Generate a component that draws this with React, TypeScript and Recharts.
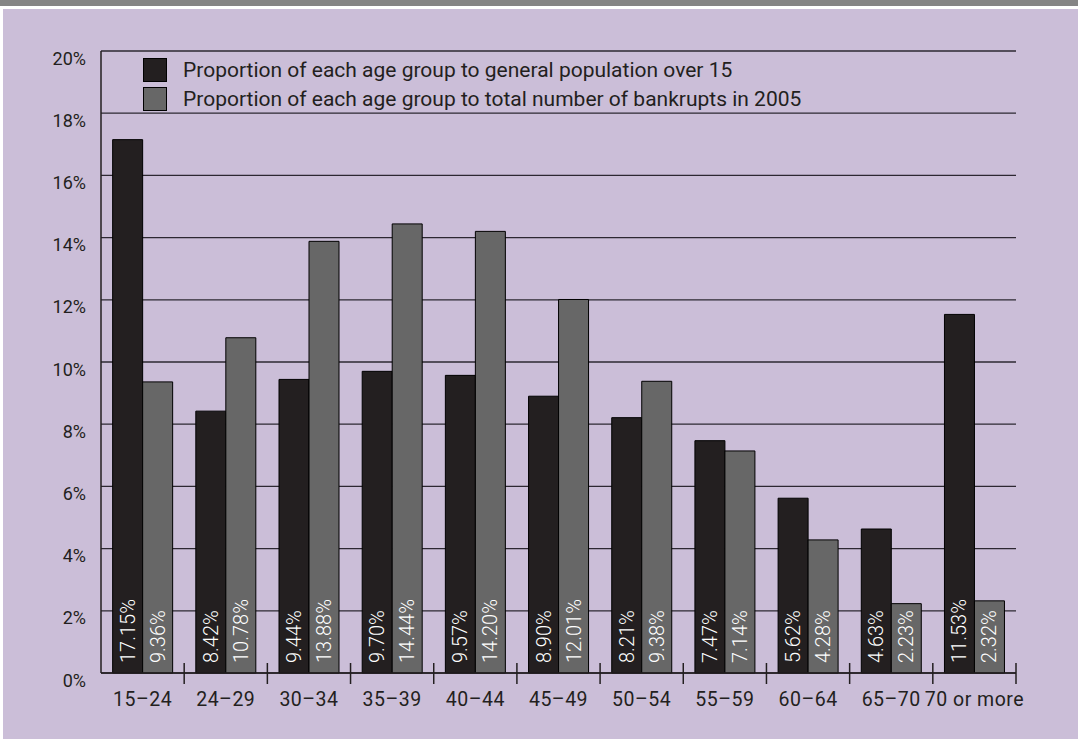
import React from 'react';
import { BarChart, Bar, XAxis, YAxis, CartesianGrid, Legend, LabelList } from 'recharts';

const categories = ['15–24', '24–29', '30–34', '35–39', '40–44', '45–49', '50–54', '55–59', '60–64', '65–70', '70 or more'];
const populationShare = [17.15, 8.42, 9.44, 9.70, 9.57, 8.90, 8.21, 7.47, 5.62, 4.63, 11.53];
const bankruptShare = [9.36, 10.78, 13.88, 14.44, 14.20, 12.01, 9.38, 7.14, 4.28, 2.23, 2.32];
const yTicks = [0, 2, 4, 6, 8, 10, 12, 14, 16, 18, 20];
const seriesNames = [
  'Proportion of each age group to general population over 15',
  'Proportion of each age group to total number of bankrupts in 2005',
];

const data = categories.map((c, i) => ({ cat: c, pop: populationShare[i], bank: bankruptShare[i] }));

const W = 1081;
const H = 739;
const M = { top: 51, right: 65, bottom: 36, left: 41 };
const Y_AXIS_W = 60;
const X_AXIS_H = 30;
const plotW = W - M.left - M.right - Y_AXIS_W;
const halfBand = plotW / categories.length / 2;

const FONT = 'Roboto, "DejaVu Sans", sans-serif';
const INK = '#231f20';
const DARK = '#231f20';
const GRAY = '#676767';

const RotLabel = (props: any) => {
  const { x, y, width, height, value } = props;
  const cx = Number(x) + Number(width) / 2;
  const by = Number(y) + Number(height) - 10;
  return (
    <text
      x={cx}
      y={by}
      transform={`rotate(-90, ${cx}, ${by})`}
      textAnchor="start"
      dominantBaseline="central"
      fill="#ffffff"
      fontSize={20}
      fontWeight={300}
      fontFamily={FONT}
    >
      {Number(value).toFixed(2)}%
    </text>
  );
};

const XTick = (props: any) => {
  const { x, y, payload } = props;
  return (
    <g>
      <line x1={x + halfBand} x2={x + halfBand} y1={y - 10} y2={y + 11} stroke={INK} strokeWidth={1.5} />
      <text x={x} y={y + 33} textAnchor="middle" fill={INK} fontSize={19.5} letterSpacing={0.5} fontFamily={FONT}>
        {payload.value}
      </text>
    </g>
  );
};

const YTick = (props: any) => {
  const { x, y, payload } = props;
  return (
    <text x={x - 15} y={y + 7} textAnchor="end" dominantBaseline="central" fill={INK} fontSize={18} fontFamily={FONT}>
      {payload.value}%
    </text>
  );
};

const LegendContent = () => {
  const colors = [DARK, GRAY];
  return (
    <div style={{ fontFamily: FONT }}>
      {seriesNames.map((n, i) => (
        <div key={n} style={{ display: 'flex', alignItems: 'center', height: 28.5 }}>
          <div
            style={{
              width: 22,
              height: 22,
              background: colors[i],
              border: '1px solid #000',
              marginRight: 16,
              flexShrink: 0,
            }}
          />
          <span style={{ fontSize: 21, color: INK, whiteSpace: 'nowrap' }}>{n}</span>
        </div>
      ))}
    </div>
  );
};

export default function App() {
  return (
    <div style={{ position: 'absolute', left: 0, top: 0, width: W, height: H, background: '#ffffff', overflow: 'hidden' }}>
      <div style={{ position: 'absolute', left: 0, top: 0, width: 1078, height: 6, background: '#858585' }} />
      <div style={{ position: 'absolute', left: 3, top: 9, width: 1075, height: 730, background: '#cbbed8' }} />
      <div style={{ position: 'absolute', left: 0, top: 0 }}>
        <BarChart
          width={W}
          height={H}
          data={data}
          margin={M}
          barCategoryGap="14%"
          barGap={0}
        >
          <CartesianGrid horizontal vertical={false} stroke="#2d2832" strokeWidth={1.3} />
          <XAxis
            dataKey="cat"
            height={X_AXIS_H}
            tickSize={0}
            tickMargin={0}
            tick={<XTick />}
            interval={0}
            axisLine={{ stroke: INK, strokeWidth: 1.5 }}
            tickLine={false}
          />
          <YAxis
            width={Y_AXIS_W}
            domain={[0, 20]}
            ticks={yTicks}
            interval={0}
            tickSize={0}
            tickMargin={0}
            tick={<YTick />}
            axisLine={{ stroke: INK, strokeWidth: 1.5 }}
            tickLine={false}
          />
          <Legend
            layout="vertical"
            align="center"
            verticalAlign="middle"
            content={<LegendContent />}
            wrapperStyle={{ top: 56, left: 143, width: 'auto', height: 'auto' }}
          />
          <Bar dataKey="pop" name={seriesNames[0]} fill={DARK} stroke="#000" strokeWidth={1} isAnimationActive={false}>
            <LabelList dataKey="pop" content={<RotLabel />} />
          </Bar>
          <Bar dataKey="bank" name={seriesNames[1]} fill={GRAY} stroke="#000" strokeWidth={1} isAnimationActive={false}>
            <LabelList dataKey="bank" content={<RotLabel />} />
          </Bar>
        </BarChart>
      </div>
    </div>
  );
}
